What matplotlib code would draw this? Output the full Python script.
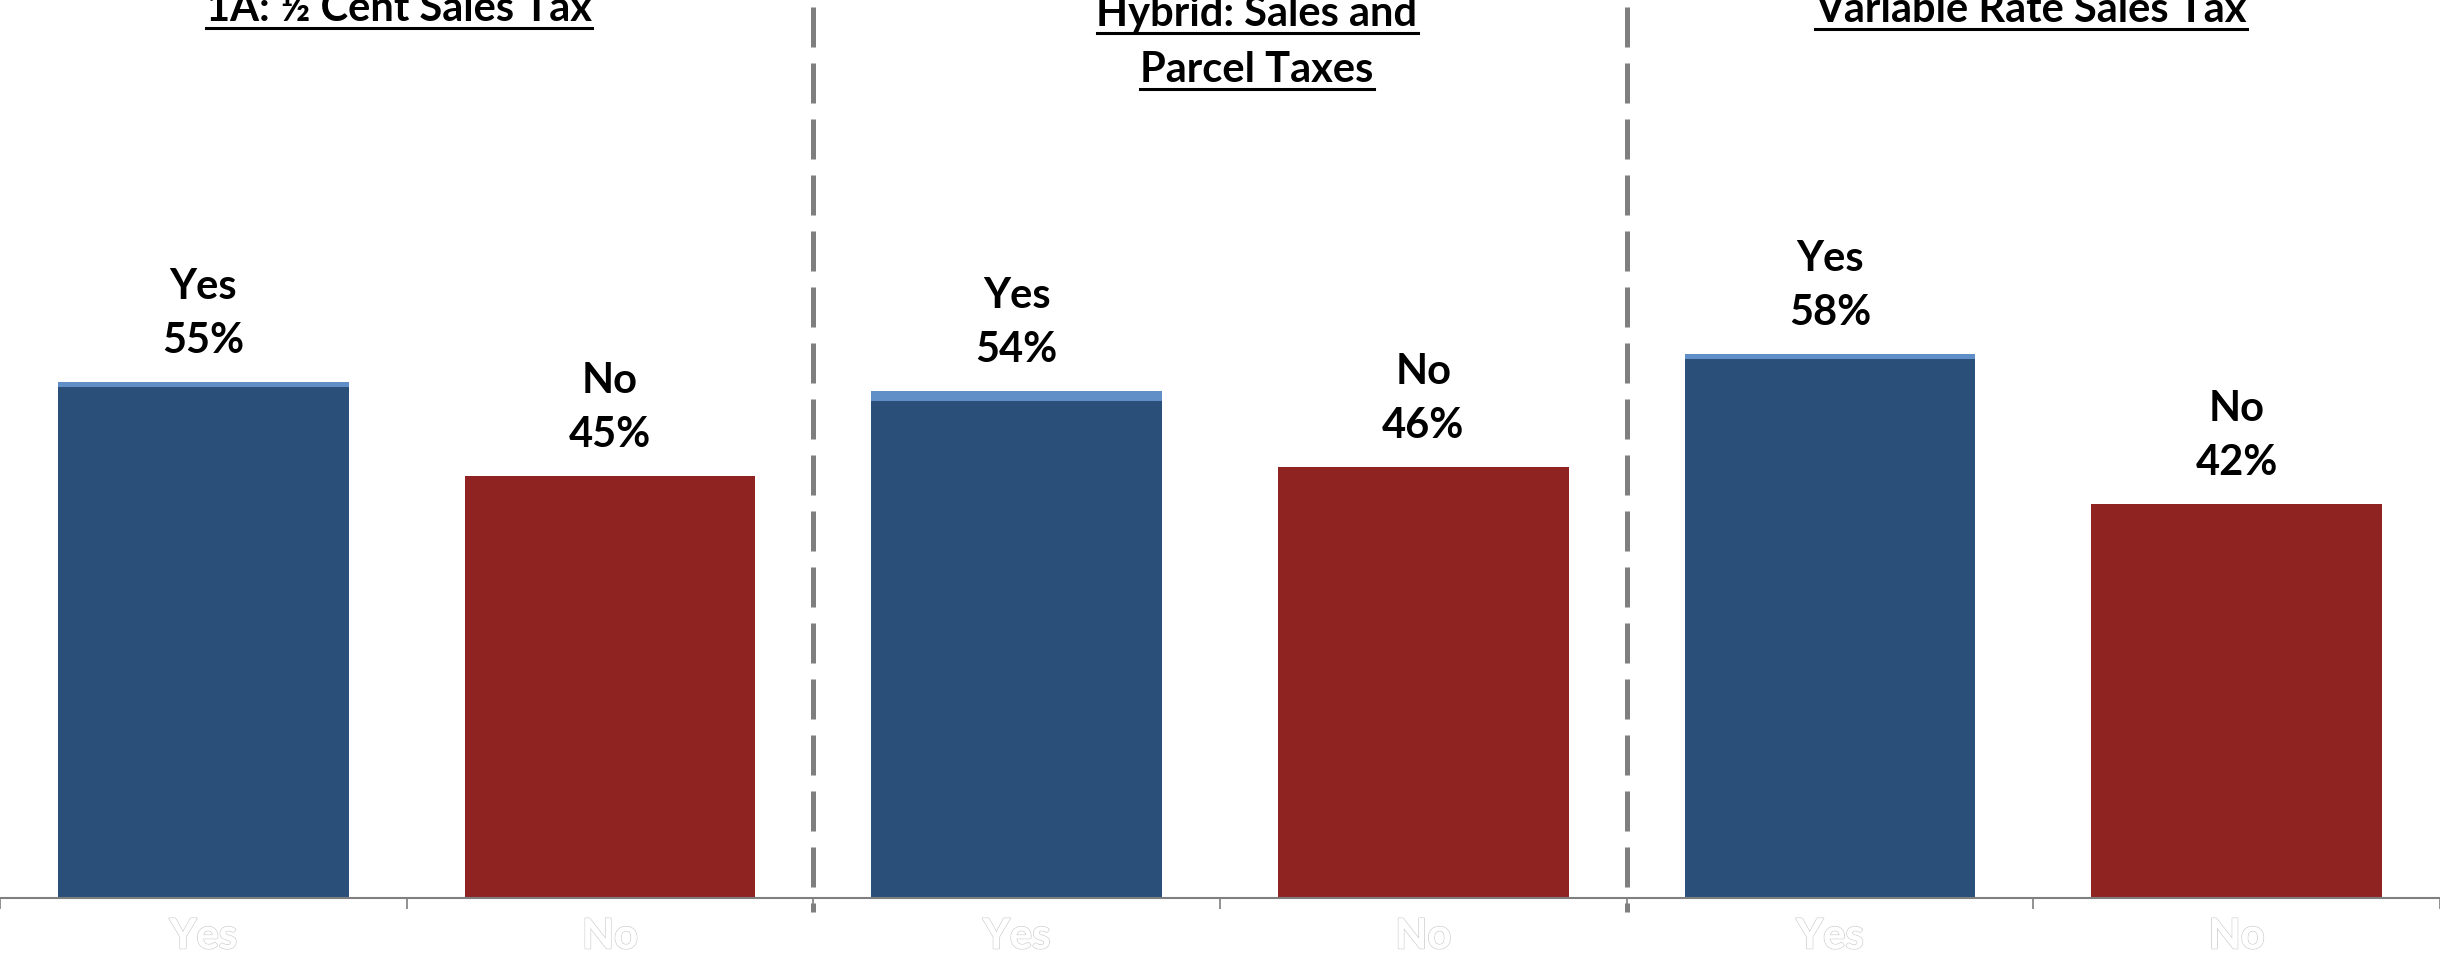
import matplotlib.pyplot as plt
import matplotlib.patheffects as pe
from matplotlib.lines import Line2D
import numpy as np

plt.rcParams['font.family'] = ['Lato', 'DejaVu Sans']

# data
groups = ['1A: ½ Cent Sales Tax', 'Hybrid: Sales and\nParcel Taxes', 'Variable Rate Sales Tax']
answers = ['Yes', 'No']
yes_total = [55, 54, 58]
yes_light = [0.5, 1.0, 0.5]   # thin lighter strip on top of the Yes bars
no_total = [45, 46, 42]

dark_blue = '#2a4f78'
light_blue = '#5f8fc6'
red = '#8e2322'
grey = '#7f7f7f'

W, H = 2440, 957
fig = plt.figure(figsize=(W / 100, H / 100), dpi=100)
ax = fig.add_axes([0, 59 / H, 1, 898 / H])
px = 9.38  # pixels per percent
ax.set_ylim(0, 898 / px)
ax.set_xlim(-0.5, 5.5)

yes_x = np.arange(len(groups)) * 2
no_x = yes_x + 1
bw = 0.715

yes_dark = [t - l for t, l in zip(yes_total, yes_light)]
ax.bar(yes_x, yes_dark, width=bw, color=dark_blue, zorder=2)
ax.bar(yes_x, yes_light, bottom=yes_dark, width=bw, color=light_blue, zorder=2)
ax.bar(no_x, no_total, width=bw, color=red, zorder=2)

lab_kw = dict(ha='center', va='center', fontsize=30, fontweight='bold', color='black')
for x, v in zip(yes_x, yes_total):
    ax.text(x, v + 95 / px, answers[0], **lab_kw)
    ax.text(x, v + 41 / px, f'{v}%', **lab_kw)
for x, v in zip(no_x, no_total):
    ax.text(x, v + 95 / px, answers[1], **lab_kw)
    ax.text(x, v + 41 / px, f'{v}%', **lab_kw)

# dashed separators between the three options
for xs in [1.5, 3.5]:
    ax.plot([xs, xs], [891 / px, -14 / px], color=grey, lw=3.6,
            dashes=(8, 3.2), solid_capstyle='butt', dash_capstyle='butt',
            clip_on=False, zorder=3)

# axis
for s in ['top', 'left', 'right']:
    ax.spines[s].set_visible(False)
ax.spines['bottom'].set_color(grey)
ax.spines['bottom'].set_linewidth(1.5)
ax.set_yticks([])
ax.set_xticks(np.arange(-0.5, 6, 1))
ax.set_xticklabels([])
ax.tick_params(axis='x', which='major', length=8, width=1.2, color=grey, direction='out')
ax.set_xticks(np.arange(6), minor=True)
ax.set_xticklabels(answers * 3, minor=True)
ax.tick_params(axis='x', which='minor', length=0, pad=14, labelsize=30, labelcolor='white')
for t in ax.get_xticklabels(minor=True):
    t.set_fontweight('bold')
    t.set_path_effects([pe.withStroke(linewidth=1.2, foreground='#d0d0d0'), pe.Normal()])

# underlined titles above each pair
title_pos = [(399, 21), (1257, 26), (2031, 22)]
line_gap = 56
fig.canvas.draw()
r = fig.canvas.get_renderer()
for title, (cx, base) in zip(groups, title_pos):
    for i, line in enumerate(title.split('\n')):
        yb = base + i * line_gap
        t = fig.text(cx / W, 1 - yb / H, line, ha='center', va='baseline',
                     fontsize=30, fontweight='bold')
        bb = t.get_window_extent(renderer=r)
        yl = 1 - (yb + 7) / H
        fig.add_artist(Line2D([bb.x0 / W, bb.x1 / W], [yl, yl], color='black', lw=2.2))

fig.savefig('out.png', dpi=100)
